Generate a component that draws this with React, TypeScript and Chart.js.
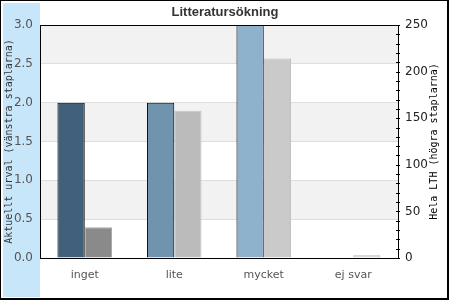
import React, { useEffect, useRef } from 'react';
import { Chart, registerables } from 'chart.js';

Chart.register(...registerables);

const categories = ['inget', 'lite', 'mycket', 'ej svar'];
const currentSelection = [2, 2, 3, 0];
const wholeLTH = [33, 158, 214, 3];
const titleText = 'Litteratursökning';
const leftAxisTitle = 'Aktuellt urval (vänstra staplarna)';
const rightAxisTitle = 'Hela LTH (högra staplarna)';
const leftColors = ['#40607c', '#7093ae', '#8eb1cc', '#a9c6dd'];
const rightColors = ['#8a8a8a', '#bbbbbb', '#cacaca', '#d2d2d2'];
const rightBorders = ['#a8a8a8', '#c6c6c6', '#bdbdbd', '#b8b8b8'];

const decor = {
  id: 'decor',
  beforeDraw(chart: any) {
    const { ctx, chartArea: a, scales } = chart;
    ctx.save();
    ctx.fillStyle = '#ffffff';
    ctx.fillRect(0, 0, chart.width, chart.height);
    ctx.fillStyle = '#c8e6fa';
    ctx.fillRect(3, 3, 37, 294);
    const y = scales.y;
    ctx.fillStyle = '#f2f2f2';
    for (let v = 0.5; v < 3; v += 1) {
      const top = y.getPixelForValue(v + 0.5);
      const bot = y.getPixelForValue(v);
      ctx.fillRect(a.left, top, a.right - a.left, bot - top);
    }
    ctx.restore();
  },
  afterDatasetsDraw(chart: any) {
    const { ctx, chartArea: a, scales } = chart;
    ctx.save();
    ctx.strokeStyle = '#000';
    ctx.lineWidth = 1;
    ctx.strokeRect(a.left + 0.5, a.top + 0.5, a.right - a.left, a.bottom - a.top);
    // right axis ticks (major and minor)
    const y1 = scales.y1;
    ctx.fillStyle = '#000';
    for (let v = 0; v <= 250; v += 10) {
      const py = Math.round(y1.getPixelForValue(v));
      ctx.fillRect(a.right - 2, py, 4, 1);
    }
    // axis titles
    ctx.font = '10px "DejaVu Sans Mono"';
    ctx.textAlign = 'center';
    ctx.textBaseline = 'middle';
    const cy = (a.top + a.bottom) / 2;
    ctx.save();
    ctx.translate(9.5, cy);
    ctx.rotate(-Math.PI / 2);
    ctx.fillStyle = '#333';
    ctx.fillText(leftAxisTitle, 0, 0);
    ctx.restore();
    ctx.save();
    ctx.translate(434.5, cy);
    ctx.rotate(-Math.PI / 2);
    ctx.fillStyle = '#000';
    ctx.fillText(rightAxisTitle, 0, 0);
    ctx.restore();
    ctx.restore();
  },
  afterDraw(chart: any) {
    const { ctx } = chart;
    ctx.save();
    ctx.fillStyle = '#000';
    ctx.fillRect(0, 0, 449, 1);
    ctx.fillRect(0, 0, 1, 300);
    ctx.fillRect(447, 0, 2, 300);
    ctx.fillRect(0, 298, 449, 2);
    ctx.restore();
  },
};

export default function App() {
  const ref = useRef<HTMLCanvasElement>(null);
  useEffect(() => {
    if (!ref.current) return;
    const chart = new Chart(ref.current, {
      type: 'bar',
      data: {
        labels: categories,
        datasets: [
          {
            label: 'Aktuellt urval',
            data: currentSelection,
            yAxisID: 'y',
            backgroundColor: leftColors,
            borderColor: '#000',
            borderWidth: 1,
          },
          {
            label: 'Hela LTH',
            data: wholeLTH,
            yAxisID: 'y1',
            backgroundColor: rightColors,
            borderColor: rightBorders,
            borderWidth: 1,
          },
        ],
      },
      options: {
        responsive: false,
        animation: false,
        layout: { padding: 0 },
        datasets: { bar: { categoryPercentage: 0.61, barPercentage: 1 } },
        plugins: {
          legend: { display: false },
          tooltip: { enabled: false },
          title: {
            display: true,
            text: titleText,
            color: '#333',
            font: { family: 'Liberation Sans', size: 13, weight: 'bold', lineHeight: '15px' },
            padding: { top: 5, bottom: 5 },
          },
        },
        scales: {
          x: {
            grid: { display: false },
            border: { display: false },
            ticks: { color: '#555', font: { family: 'DejaVu Sans', size: 11 }, padding: 3 },
            afterFit: (s: any) => { s.height = 42; },
          },
          y: {
            position: 'left',
            min: 0,
            max: 3,
            ticks: {
              stepSize: 0.5,
              callback: (v: any) => Number(v).toFixed(1),
              color: '#555',
              font: { family: 'DejaVu Sans', size: 12 },
              padding: 7,
            },
            grid: {
              color: (c: any) => (c.tick && (c.tick.value === 0 || c.tick.value === 3) ? 'rgba(0,0,0,0)' : '#dedede'),
              drawTicks: false,
            },
            border: { display: false },
            afterFit: (s: any) => { s.width = 40; },
          },
          y1: {
            position: 'right',
            min: 0,
            max: 250,
            ticks: { stepSize: 50, color: '#222', font: { family: 'DejaVu Sans', size: 12 }, padding: 7 },
            grid: { drawOnChartArea: false, drawTicks: false },
            border: { display: false },
            afterFit: (s: any) => { s.width = 52; },
          },
        },
      },
      plugins: [decor],
    } as any);
    return () => chart.destroy();
  }, []);
  return (
    <div style={{ position: 'absolute', left: 0, top: 0, width: 450, height: 300 }}>
      <canvas ref={ref} width={450} height={300} style={{ display: 'block' }} />
    </div>
  );
}
